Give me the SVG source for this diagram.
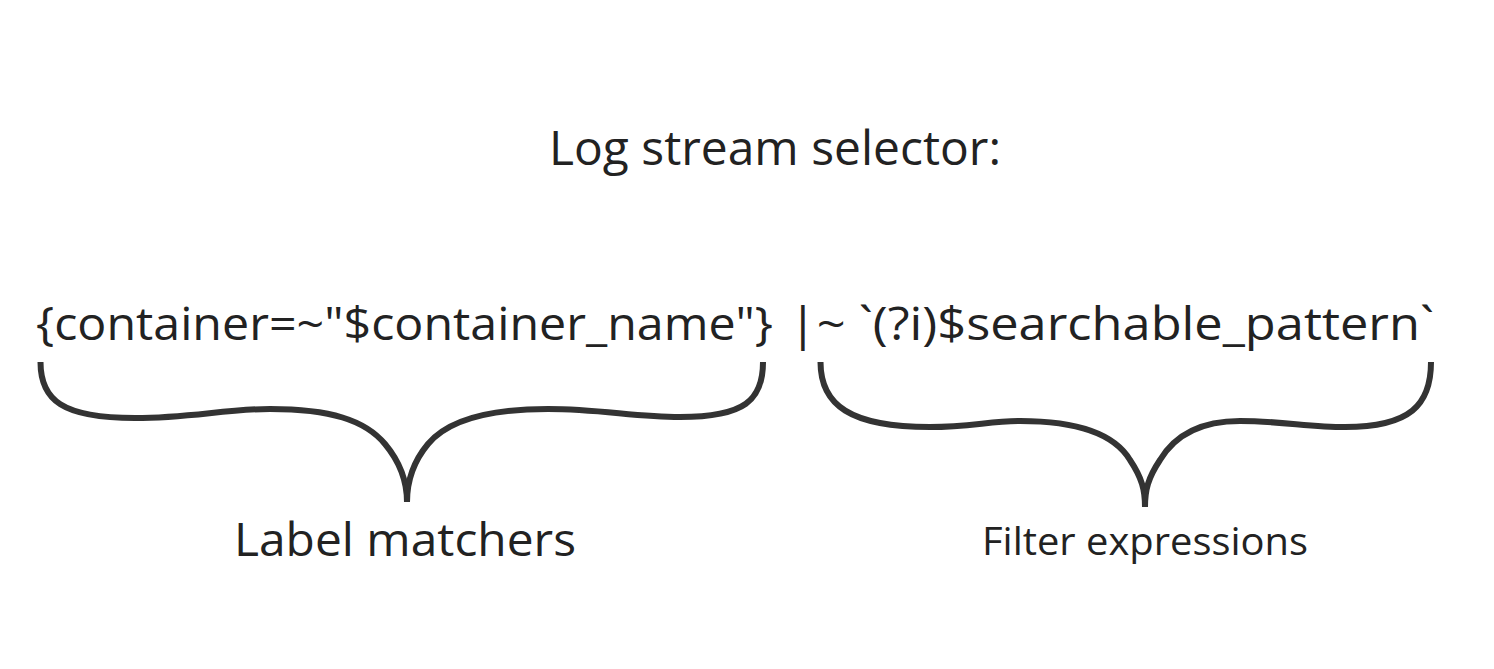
<svg xmlns="http://www.w3.org/2000/svg" width="1494" height="669" viewBox="0 0 1494 669">
<style>
text{font-family:"Open Sans","Noto Sans","Liberation Sans",sans-serif;fill:#222}
.brace{fill:none;stroke:#333;stroke-width:6;stroke-linecap:butt;stroke-linejoin:round}
</style>
<rect width="1494" height="669" fill="#fff"/>
<g id="title"><text x="549" y="165" font-size="48" textLength="452" lengthAdjust="spacingAndGlyphs">Log stream selector:</text></g>
<g id="label-part"><text x="36" y="340" font-size="45" textLength="737" lengthAdjust="spacingAndGlyphs">{container=~"$container_name"}</text></g>
<g id="filter-part"><text x="789" y="340" font-size="45" textLength="645" lengthAdjust="spacingAndGlyphs">|~ `(?i)$searchable_pattern`</text></g>
<g id="connectors">
<path class="brace" d="M40.5 362 C40.5 400 62 418 135 418 C190 418 225 409 270 409 C330 409 365 420 385 444 C400 462 407 480 407 502"/>
<path class="brace" d="M407 502 C407 480 413 462 428 444 C448 420 490 409 548 409 C600 409 635 417 680 417 C745 417 763 400 763 362"/>
<path class="brace" d="M820.5 362 C820.5 405 850 427 930 427 C970 427 990 421 1020 421 C1080 421 1115 435 1130 460 C1142 478 1145 490 1145 507"/>
<path class="brace" d="M1145 507 C1145 490 1148 478 1160 460 C1175 435 1200 421 1240 421 C1280 421 1310 427 1345 427 C1410 427 1431 405 1431 362"/>
</g>
<g id="label-matchers"><text x="234" y="556" font-size="46" textLength="342" lengthAdjust="spacingAndGlyphs">Label matchers</text></g>
<g id="filter-expressions"><text x="982" y="555" font-size="38" textLength="326" lengthAdjust="spacingAndGlyphs">Filter expressions</text></g>
</svg>
